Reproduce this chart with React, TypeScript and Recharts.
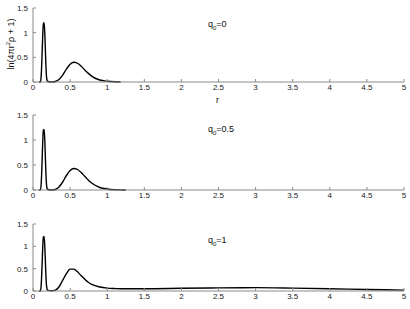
import React from 'react';
import { LineChart, Line, XAxis, YAxis } from 'recharts';

// radial grid (r) shared by all three panels
const rValues = [
  0.08, 0.1, 0.11, 0.12, 0.13, 0.14, 0.15, 0.16, 0.17, 0.18, 0.19, 0.2, 0.25, 0.3, 0.35, 0.4, 0.45, 0.5,
  0.55, 0.6, 0.65, 0.7, 0.75, 0.8, 0.9, 1.0, 1.1, 1.18, 1.25, 1.5, 2, 2.5, 3, 3.5, 4, 4.5, 5,
];

// ln(4*pi*r^2*rho + 1) for q0 = 0, 0.5, 1
const q0Zero = [
  0, 0, 0.12, 0.45, 0.9, 1.18, 1.2, 0.95, 0.5, 0.15, 0.03, 0.01, 0, 0.01, 0.05, 0.14, 0.26, 0.36,
  0.4, 0.38, 0.32, 0.24, 0.17, 0.11, 0.04, 0.015, 0.004, 0.001, null, null, null, null, null, null, null, null, null,
];
const q0Half = [
  0, 0, 0.12, 0.46, 0.92, 1.2, 1.21, 0.96, 0.5, 0.15, 0.03, 0.01, 0, 0.01, 0.06, 0.16, 0.29, 0.39,
  0.43, 0.41, 0.35, 0.27, 0.19, 0.13, 0.05, 0.02, 0.006, 0.002, 0.001, null, null, null, null, null, null, null, null,
];
const q0One = [
  0, 0, 0.12, 0.47, 0.93, 1.21, 1.22, 0.97, 0.52, 0.16, 0.04, 0.015, 0.005, 0.02, 0.09, 0.24, 0.39, 0.49,
  0.49, 0.43, 0.34, 0.26, 0.19, 0.14, 0.09, 0.065, 0.055, 0.05, 0.05, 0.05, 0.06, 0.07, 0.075, 0.065, 0.05, 0.035, 0.02,
];

const xTicks = [0, 0.5, 1, 1.5, 2, 2.5, 3, 3.5, 4, 4.5, 5];
const yTicks = [0, 0.5, 1, 1.5];

const font = '"Liberation Sans", Arial, sans-serif';
const axisColor = '#8a8a8a';
const tickStyle = { fontSize: 8, fill: '#222', fontFamily: font };

function Panel({ values, top, height, marginTop }: { values: (number | null)[]; top: number; height: number; marginTop: number }) {
  const data = rValues.map((r, i) => ({ r, v: values[i] }));
  return (
    <div style={{ position: 'absolute', left: 0, top, width: 410, height }}>
      <LineChart width={410} height={height} data={data} margin={{ top: marginTop, right: 6, bottom: 0, left: 0 }}>
        <XAxis
          dataKey="r"
          type="number"
          domain={[0, 5]}
          ticks={xTicks}
          height={18}
          stroke={axisColor}
          tickSize={-3}
          tickMargin={5}
          tick={tickStyle}
          interval={0}
        />
        <YAxis
          type="number"
          domain={[0, 1.5]}
          ticks={yTicks}
          width={33}
          stroke={axisColor}
          tickSize={-3}
          tickMargin={8}
          tick={tickStyle}
          interval={0}
        />
        <Line type="monotone" dataKey="v" stroke="#000" strokeWidth={1.4} dot={false} isAnimationActive={false} connectNulls={false} />
      </LineChart>
    </div>
  );
}

const labelStyle: React.CSSProperties = { position: 'absolute', fontSize: 9, fontFamily: font, color: '#111', whiteSpace: 'nowrap', lineHeight: '9px' };

export default function App() {
  return (
    <div style={{ position: 'absolute', left: 0, top: 0, width: 410, height: 309, background: '#fff', overflow: 'hidden' }}>
      <Panel values={q0Zero} top={0} height={100} marginTop={8} />
      <Panel values={q0Half} top={100} height={108} marginTop={15} />
      <Panel values={q0One} top={208} height={101} marginTop={16} />

      <div style={{ ...labelStyle, left: 208, top: 20 }}>q<sub style={{ fontSize: 6 }}>0</sub>=0</div>
      <div style={{ ...labelStyle, left: 208, top: 125 }}>q<sub style={{ fontSize: 6 }}>0</sub>=0.5</div>
      <div style={{ ...labelStyle, left: 208, top: 236 }}>q<sub style={{ fontSize: 6 }}>0</sub>=1</div>
      <div style={{ ...labelStyle, left: 216, top: 96 }}>r</div>
      <div
        style={{
          ...labelStyle,
          left: 10,
          top: 44,
          transform: 'translate(-50%, -50%) rotate(-90deg)',
        }}
      >
        ln(4πr<sup style={{ fontSize: 6 }}>2</sup>ρ + 1)
      </div>
    </div>
  );
}
